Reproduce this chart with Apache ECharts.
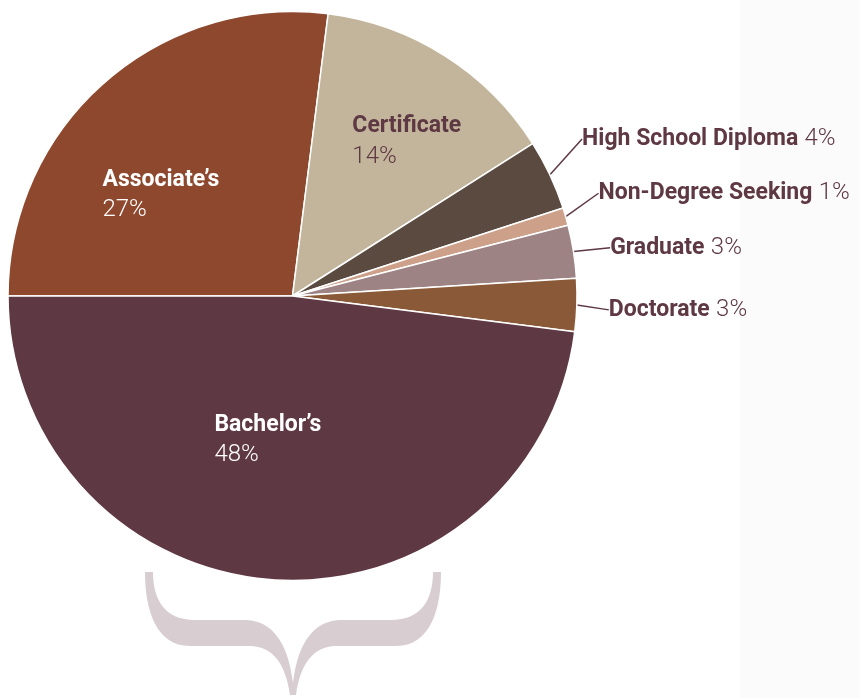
<!DOCTYPE html>
<html>
<head>
<meta charset="utf-8">
<script src="https://cdn.jsdelivr.net/npm/echarts@6/dist/echarts.min.js"></script>
<style>html,body{margin:0;padding:0;background:#fff}#c{width:859px;height:698px}</style>
</head>
<body>
<div id="c"></div>
<script>
const categories = ["Associate\u2019s", "Certificate", "High School Diploma", "Non-Degree Seeking", "Graduate", "Doctorate", "Bachelor\u2019s"];
const values = [27, 14, 4, 1, 3, 3, 48];
const colors = ["#8E482D", "#C2B59B", "#5B4A40", "#CDA08A", "#9E8384", "#8A5A38", "#5E3843"];
const insideLabel = [true, true, false, false, false, false, true];
const labelColors = ["#FFFFFF", "#5E3843", "#5E3843", "#5E3843", "#5E3843", "#5E3843", "#FFFFFF"];
// label shift: inside labels from default centre, outside labels from default left edge / middle
const labelShift = [[-94, -22], [-18, -62], [1, -38], [0, -30], [3, -14], [-2, -11], [-69, -31]];

const NAME_FONT = "Roboto, 'Liberation Sans', Arial, sans-serif";
const PCT_FONT = "Roboto, 'Open Sans', sans-serif";
const BRACE_PATH = 'M145 572 L153 572 C153 600 165 620 195 620 L245 620 C270 620 288 640 293 683 C298 640 316 620 341 620 L391 620 C421 620 433 600 433 572 L441 572 C441 610 430 646 396 646 L336 646 C313 646 300 665 296 695 L290 695 C286 665 273 646 250 646 L190 646 C156 646 145 610 145 572 Z';

const data = categories.map((name, i) => {
  const col = labelColors[i];
  return {
    name: name,
    value: values[i],
    itemStyle: { color: colors[i] },
    label: {
      show: true,
      position: insideLabel[i] ? 'inside' : 'outside',
      formatter: insideLabel[i] ? '{n|{b}}\n{p|{c}%}' : '{n|{b}} {p|{c}%}',
      rich: {
        n: { fontFamily: NAME_FONT, fontWeight: 'bold', fontSize: 23, color: col, lineHeight: 30 },
        p: { fontFamily: PCT_FONT, fontWeight: 300, fontSize: 24, color: col, lineHeight: 30, padding: [0, 0, 0, insideLabel[i] ? 0 : 3] }
      }
    },
    labelLine: { show: !insideLabel[i] }
  };
});

const chart = echarts.init(document.getElementById('c'), null, { renderer: 'canvas' });
chart.setOption({
  backgroundColor: '#ffffff',
  animation: false,
  graphic: [
    { type: 'rect', z: -10, silent: true, shape: { x: 740, y: 0, width: 119, height: 698 }, style: { fill: '#FBFBFB' } }
  ],
  series: [{
    type: 'pie',
    center: [292.5, 296],
    radius: 284.5,
    startAngle: 180,
    clockwise: true,
    avoidLabelOverlap: false,
    itemStyle: { borderColor: '#ffffff', borderWidth: 1.5 },
    label: { distanceToLabelLine: 4 },
    labelLine: { length: 30, length2: 0, smooth: false, lineStyle: { color: '#5E3843', width: 1.5 } },
    labelLayout: function (p) {
      const i = p.dataIndex;
      const s = labelShift[i];
      const r = p.labelRect;
      const ax = insideLabel[i] ? r.x + r.width / 2 : r.x;
      const ay = r.y + r.height / 2;
      return { x: ax + s[0], y: ay + s[1], align: 'left', verticalAlign: 'top' };
    },
    data: data
  }, {
    type: 'custom',
    coordinateSystem: 'none',
    silent: true,
    data: [[0]],
    renderItem: function () {
      return { type: 'path', shape: { pathData: BRACE_PATH }, style: { fill: '#D8CDD0' } };
    }
  }]
});
</script>
</body>
</html>
